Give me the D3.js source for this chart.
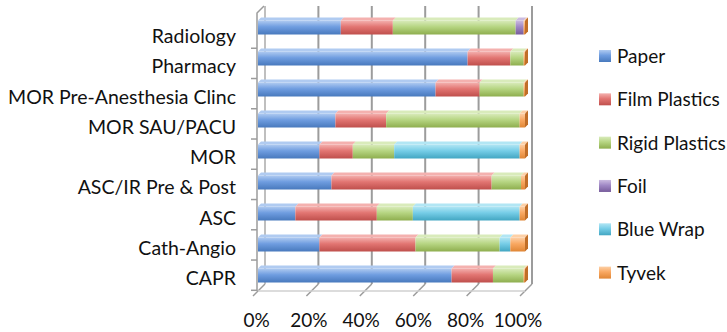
<!DOCTYPE html>
<html>
<head>
<meta charset="utf-8">
<script src="https://cdn.jsdelivr.net/npm/d3@7"></script>
<style>
  html, body { margin: 0; padding: 0; background: #fff; }
  svg { display: block; }
  text { font-family: Lato, "Open Sans", sans-serif; fill: #111; }
</style>
</head>
<body>
<svg id="chart" width="727" height="332"></svg>
<script>
// Departments, top to bottom
const categories = [
  "Radiology", "Pharmacy", "MOR Pre-Anesthesia Clinc", "MOR SAU/PACU",
  "MOR", "ASC/IR Pre & Post", "ASC", "Cath-Angio", "CAPR"
];

// Share of each waste stream per department (%)
const paper        = [31,   78.5, 66.5, 29,  23,   27.5, 14,   23,   72.5];
const filmPlastics = [19.5, 16,   16.5, 19,  12.5, 60,   30.5, 36,   15.5];
const rigidPlastics= [46,   5,    16.5, 50,  15.5, 11,   13.5, 31.5, 11.5];
const foil         = [3,    0,    0,    0,   0,    0,    0,    0,    0];
const blueWrap     = [0,    0,    0,    0,   47,   0,    40,   4,    0];
const tyvek        = [0.5,  0.5,  0.5,  2,   2,    1.5,  2,    5.5,  0.5];

const seriesNames = ["Paper", "Film Plastics", "Rigid Plastics", "Foil", "Blue Wrap", "Tyvek"];
const seriesValues = [paper, filmPlastics, rigidPlastics, foil, blueWrap, tyvek];
const tickValues = [0, 20, 40, 60, 80, 100];

// Fill shades per series: [top highlight, middle, bottom]
const shades = [
  ["#b0cbf1", "#6f9de0", "#4879bd"],
  ["#f4b1af", "#e27572", "#bf4f4c"],
  ["#d9ebbb", "#b6d582", "#8eae4e"],
  ["#cbbbe0", "#a088c5", "#775c9b"],
  ["#b2e6f4", "#76cde7", "#42a6c2"],
  ["#fdd0a6", "#f9a862", "#e08635"]
];
const sideShade = ["#3f6aa3", "#a3423f", "#7a9643", "#614b80", "#3a8ea6", "#c06e28"];

const svg = d3.select("#chart");

// Gradients
const defs = svg.append("defs");
shades.forEach((s, i) => {
  const g = defs.append("linearGradient")
    .attr("id", "grad" + i).attr("x1", 0).attr("y1", 0).attr("x2", 0).attr("y2", 1);
  g.append("stop").attr("offset", "0%").attr("stop-color", s[0]);
  g.append("stop").attr("offset", "45%").attr("stop-color", s[1]);
  g.append("stop").attr("offset", "100%").attr("stop-color", s[2]);
});

// Depth of the 3D box
const depth = 7;

// Scales: back wall, front face, tick labels
const xBack  = d3.scaleLinear().domain([0, 100]).range([265, 532]);
const xFront = d3.scaleLinear().domain([0, 100]).range([258, 525]);
const xLabel = d3.scaleLinear().domain([0, 100]).range([256.5, 518]);
const yBar   = d3.scaleBand().domain(categories).range([12, 291]);
const yAxis  = d3.scaleBand().domain(categories).range([18, 290.3]);

const backTop = 6, backBottom = 284, floorFront = backBottom + depth;
const gridColor = "#9c9c9c";

// Back wall gridlines
svg.append("g").selectAll("line").data(tickValues).join("line")
  .attr("x1", d => xBack(d)).attr("x2", d => xBack(d))
  .attr("y1", backTop).attr("y2", backBottom)
  .attr("stroke", gridColor).attr("stroke-width", 2);

// Floor: slanted depth lines with outer tick, and front edge
svg.append("g").selectAll("line").data(tickValues).join("line")
  .attr("x1", d => xBack(d)).attr("y1", backBottom)
  .attr("x2", d => xBack(d) - depth - 5).attr("y2", floorFront + 5)
  .attr("stroke", gridColor).attr("stroke-width", 1.5);
svg.append("line")
  .attr("x1", xFront(0)).attr("x2", xFront(100))
  .attr("y1", floorFront).attr("y2", floorFront)
  .attr("stroke", "#d0d0d0").attr("stroke-width", 1.5);

// Left wall
svg.append("path")
  .attr("d", `M${xFront(0) - 1},${floorFront} L${xFront(0) - 1},${backTop + depth} L${xBack(0) - 1},${backTop}`)
  .attr("fill", "none").attr("stroke", gridColor).attr("stroke-width", 1.5);
svg.append("line")
  .attr("x1", xBack(0)).attr("x2", xBack(0))
  .attr("y1", backTop).attr("y2", backBottom)
  .attr("stroke", "#e2e2e2").attr("stroke-width", 1);

// Category tick marks on the wall
const boundaries = categories.slice(1).map(c => yAxis(c)).concat([yAxis.range()[1]]);
svg.append("g").selectAll("line").data(boundaries).join("line")
  .attr("x1", xFront(0) - 7).attr("x2", xFront(0) - 1)
  .attr("y1", d => d).attr("y2", d => d)
  .attr("stroke", gridColor).attr("stroke-width", 1.5);

// Stacked bars
const stacked = categories.map((c, i) => {
  let acc = 0;
  return seriesValues.map((vals, s) => {
    const v0 = acc; acc += vals[i];
    return { cat: c, s, v0, v1: acc };
  });
});

const barH = 14;
const lift = 3;
const barsG = svg.append("g");
stacked.forEach(segs => {
  const cat = segs[0].cat;
  const yc = yBar(cat) + yBar.bandwidth() / 2;
  const y0 = yc - barH / 2;
  const row = barsG.append("g");
  const visible = segs.filter(d => d.v1 - d.v0 > 0);
  // top faces
  row.selectAll("path.top").data(visible).join("path")
    .attr("class", "top")
    .attr("d", d => `M${xFront(d.v0)},${y0} L${xFront(d.v1)},${y0} L${xFront(d.v1) + lift},${y0 - lift} L${xFront(d.v0) + lift},${y0 - lift} Z`)
    .attr("fill", d => shades[d.s][0]);
  // front faces
  row.selectAll("rect").data(visible).join("rect")
    .attr("x", d => xFront(d.v0))
    .attr("width", d => xFront(d.v1) - xFront(d.v0))
    .attr("y", y0).attr("height", barH)
    .attr("fill", d => `url(#grad${d.s})`);
  // end cap
  const last = visible[visible.length - 1];
  const xe = xFront(last.v1);
  row.append("path")
    .attr("d", `M${xe},${y0} L${xe + lift},${y0 - lift} L${xe + lift},${y0 + barH - lift} L${xe},${y0 + barH} Z`)
    .attr("fill", sideShade[last.s]);
});

// Category labels
svg.append("g").selectAll("text").data(categories).join("text")
  .attr("x", 236)
  .attr("y", d => yAxis(d) + yAxis.bandwidth() / 2 + 10)
  .attr("text-anchor", "end")
  .style("font-size", "19.5px")
  .text(d => d);

// Value axis labels
svg.append("g").selectAll("text").data(tickValues).join("text")
  .attr("x", d => xLabel(d))
  .attr("y", 326.7)
  .attr("text-anchor", "middle")
  .style("font-size", "19px")
  .text(d => d + "%");

// Legend
const legendY = d3.scalePoint().domain(seriesNames).range([56, 272.6]);
const legend = svg.append("g").selectAll("g").data(seriesNames).join("g")
  .attr("transform", d => `translate(599,${legendY(d)})`);
legend.append("rect")
  .attr("x", 0).attr("y", -6).attr("width", 12).attr("height", 12)
  .attr("fill", (d, i) => `url(#grad${i})`);
legend.append("text")
  .attr("x", 18).attr("y", 7)
  .style("font-size", "19px")
  .text(d => d);
</script>
</body>
</html>
